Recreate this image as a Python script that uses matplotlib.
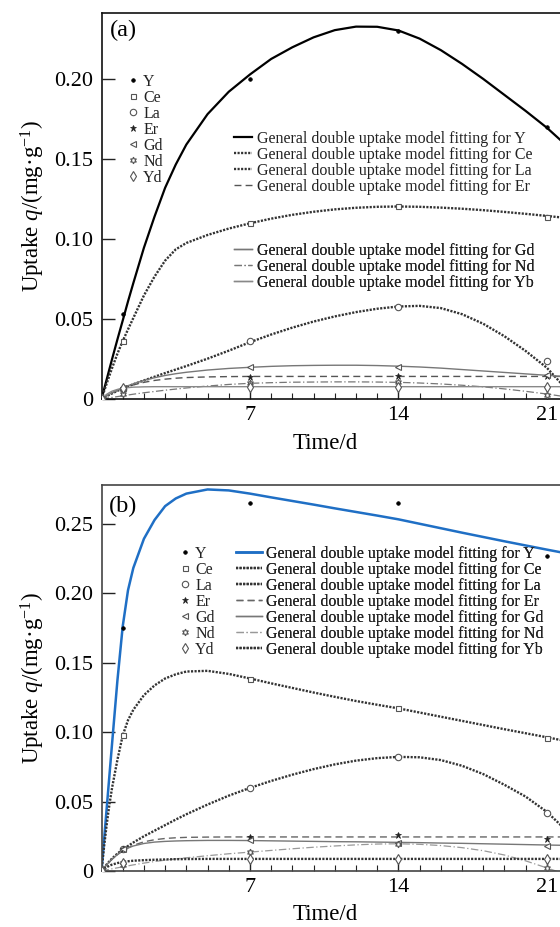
import matplotlib
matplotlib.use("Agg")
import matplotlib.pyplot as plt
from matplotlib.lines import Line2D
from matplotlib.ticker import MultipleLocator, FixedLocator, FuncFormatter

plt.rcParams['font.family'] = 'Liberation Serif'
plt.rcParams['mathtext.fontset'] = 'custom'
plt.rcParams['mathtext.rm'] = 'Liberation Serif'
plt.rcParams['mathtext.it'] = 'Liberation Serif:italic'

# sampling days
t_pts = [0, 1, 7, 14, 21]
t_fit = [0, 0.125, 0.25, 0.375, 0.5, 0.75, 1, 1.25, 1.5, 2, 2.5, 3, 3.5, 4,
         5, 6, 7, 8, 9, 10, 11, 12, 13, 14, 15, 16, 17, 18, 19, 20, 21, 22]

elements = ['Y', 'Ce', 'La', 'Er', 'Gd', 'Nd', 'Yd']
fit_names = ['Y', 'Ce', 'La', 'Er', 'Gd', 'Nd', 'Yb']

# panel (a) measured uptake
a_Y = [0, 0.053, 0.200, 0.230, 0.170]
a_Ce = [0, 0.036, 0.110, 0.1206, 0.114]
a_La = [0, 0.0065, 0.036, 0.0575, 0.024]
a_Er = [0, 0.007, 0.014, 0.0145, 0.0145]
a_Gd = [0, 0.007, 0.020, 0.020, 0.0148]
a_Nd = [0, 0.003, 0.010, 0.0105, 0.0028]
a_Yd = [0, 0.007, 0.0078, 0.0075, 0.0075]

# panel (a) model curves
a_fit_Y = [0, 0.0063, 0.0125, 0.0188, 0.025, 0.0372, 0.049, 0.061, 0.0724,
           0.0945, 0.114, 0.132, 0.1465, 0.159, 0.178, 0.192, 0.2028, 0.2125,
           0.2198, 0.2260, 0.2305, 0.2327, 0.2326, 0.2303, 0.2252, 0.2180,
           0.2094, 0.2000, 0.1900, 0.1800, 0.1695, 0.1575]
a_fit_Ce = [0, 0.0050, 0.0099, 0.0147, 0.0194, 0.0283, 0.0362, 0.0435, 0.0506,
            0.0647, 0.0765, 0.0865, 0.0935, 0.0975, 0.1025, 0.1065, 0.1098,
            0.1127, 0.1151, 0.1170, 0.1185, 0.1195, 0.1201, 0.1203, 0.1201,
            0.1196, 0.1189, 0.1180, 0.1169, 0.1157, 0.1144, 0.1130]
a_fit_La = [0, 0.0009, 0.0018, 0.0027, 0.0035, 0.0051, 0.0066, 0.0079, 0.0092,
            0.0116, 0.0139, 0.0162, 0.0184, 0.0206, 0.0252, 0.0302, 0.0355,
            0.0403, 0.0446, 0.0484, 0.0516, 0.0543, 0.0564, 0.0578, 0.0582,
            0.0568, 0.0530, 0.0470, 0.0392, 0.0300, 0.0195, 0.0050]
a_fit_Er = [0, 0.0010, 0.0020, 0.0029, 0.0038, 0.0053, 0.0066, 0.0078, 0.0088,
            0.0104, 0.0116, 0.0124, 0.0130, 0.0134, 0.0138, 0.0140, 0.0141,
            0.0141, 0.0141, 0.0141, 0.0141, 0.0141, 0.0141, 0.0141, 0.0141,
            0.0141, 0.0141, 0.0141, 0.0141, 0.0141, 0.0141, 0.0141]
a_fit_Gd = [0, 0.0010, 0.0020, 0.0030, 0.0039, 0.0055, 0.0070, 0.0083, 0.0095,
            0.0116, 0.0133, 0.0147, 0.0158, 0.0167, 0.0181, 0.0191, 0.0198,
            0.0204, 0.0208, 0.0210, 0.0211, 0.0211, 0.0209, 0.0205, 0.0200,
            0.0193, 0.0184, 0.0175, 0.0166, 0.0157, 0.0148, 0.0139]
a_fit_Nd = [0, 0.0003, 0.0005, 0.0008, 0.0010, 0.0015, 0.0020, 0.0025, 0.0030,
            0.0039, 0.0047, 0.0055, 0.0062, 0.0069, 0.0081, 0.0091, 0.0098,
            0.0102, 0.0105, 0.0106, 0.0107, 0.0107, 0.0106, 0.0104, 0.0100,
            0.0094, 0.0086, 0.0076, 0.0063, 0.0048, 0.0031, 0.0012]
a_fit_Yd = [0, 0.0016, 0.0030, 0.0040, 0.0049, 0.0060, 0.0067, 0.0071, 0.0074,
            0.0076, 0.0077, 0.0077, 0.0077, 0.0077, 0.0077, 0.0077, 0.0077,
            0.0077, 0.0077, 0.0077, 0.0077, 0.0077, 0.0077, 0.0077, 0.0077,
            0.0077, 0.0077, 0.0077, 0.0077, 0.0077, 0.0077, 0.0077]

# panel (b) measured uptake
b_Y = [0, 0.175, 0.265, 0.265, 0.2266]
b_Ce = [0, 0.098, 0.138, 0.117, 0.0957]
b_La = [0, 0.016, 0.060, 0.082, 0.042]
b_Er = [0, 0.016, 0.0245, 0.026, 0.023]
b_Gd = [0, 0.016, 0.0222, 0.020, 0.018]
b_Nd = [0, 0.004, 0.0137, 0.0194, 0.002]
b_Yd = [0, 0.006, 0.0087, 0.0087, 0.0087]

# panel (b) model curves
b_fit_Y = [0, 0.023, 0.046, 0.069, 0.092, 0.137, 0.176, 0.202, 0.218, 0.239,
           0.2525, 0.2625, 0.268, 0.2715, 0.2745, 0.2738, 0.2715, 0.2688,
           0.2662, 0.2636, 0.2609, 0.2583, 0.2557, 0.2530, 0.2498, 0.2466,
           0.2434, 0.2403, 0.2372, 0.2342, 0.2312, 0.2283]
b_fit_Ce = [0, 0.018, 0.034, 0.048, 0.060, 0.080, 0.0975, 0.1085, 0.116,
            0.1265, 0.1335, 0.1385, 0.1415, 0.1435, 0.1440, 0.1418, 0.1385,
            0.1350, 0.1317, 0.1284, 0.1253, 0.1223, 0.1196, 0.1170, 0.1140,
            0.1110, 0.1080, 0.1050, 0.1020, 0.0991, 0.0962, 0.0932]
b_fit_La = [0, 0.0025, 0.0048, 0.0070, 0.0090, 0.0125, 0.0155, 0.0180, 0.0205,
            0.0250, 0.0290, 0.0330, 0.0370, 0.0408, 0.0478, 0.0542, 0.0598,
            0.0648, 0.0693, 0.0733, 0.0767, 0.0794, 0.0812, 0.0821, 0.0818,
            0.0798, 0.0757, 0.0697, 0.0620, 0.0535, 0.0425, 0.0280]
b_fit_Er = [0, 0.0023, 0.0045, 0.0066, 0.0085, 0.0118, 0.0145, 0.0167, 0.0185,
            0.0210, 0.0225, 0.0234, 0.0239, 0.0242, 0.0244, 0.0245, 0.0245,
            0.0245, 0.0245, 0.0245, 0.0245, 0.0245, 0.0245, 0.0245, 0.0245,
            0.0245, 0.0245, 0.0245, 0.0245, 0.0245, 0.0245, 0.0245]
b_fit_Gd = [0, 0.0023, 0.0045, 0.0066, 0.0085, 0.0118, 0.0145, 0.0165, 0.0180,
            0.0198, 0.0208, 0.0213, 0.0216, 0.0218, 0.0220, 0.0220, 0.0219,
            0.0217, 0.0215, 0.0213, 0.0211, 0.0210, 0.0208, 0.0206, 0.0204,
            0.0201, 0.0199, 0.0196, 0.0193, 0.0190, 0.0187, 0.0184]
b_fit_Nd = [0, 0.0004, 0.0008, 0.0012, 0.0016, 0.0023, 0.0030, 0.0037, 0.0044,
            0.0057, 0.0068, 0.0078, 0.0087, 0.0095, 0.0110, 0.0124, 0.0136,
            0.0148, 0.0160, 0.0171, 0.0180, 0.0188, 0.0194, 0.0196, 0.0192,
            0.0183, 0.0168, 0.0146, 0.0115, 0.0073, 0.0022, -0.0030]
b_fit_Yd = [0, 0.0015, 0.0028, 0.0038, 0.0046, 0.0057, 0.0065, 0.0070, 0.0074,
            0.0078, 0.0081, 0.0083, 0.0085, 0.0086, 0.0087, 0.0087, 0.0087,
            0.0087, 0.0087, 0.0087, 0.0087, 0.0087, 0.0087, 0.0087, 0.0087,
            0.0087, 0.0087, 0.0087, 0.0087, 0.0087, 0.0087, 0.0087]

W, H = 560, 927


def fxy(px, py):
    # figure pixel (from top-left) -> figure fraction
    return px / W, 1 - py / H


DOT = (0, (0.9, 0.6))
marker_style = {
    'Y': dict(marker='o', ms=2.6, mfc='black', mec='black', mew=0.5),
    'Ce': dict(marker='s', ms=3.6, mfc='white', mec='#555555', mew=0.8),
    'La': dict(marker='o', ms=4.6, mfc='white', mec='#555555', mew=0.8),
    'Er': dict(marker='*', ms=4.8, mfc='#222222', mec='#222222', mew=0.5),
    'Gd': dict(marker='<', ms=4.6, mfc='white', mec='#555555', mew=0.8),
    'Nd': dict(marker=(6, 1, 0), ms=4.8, mfc='white', mec='#555555', mew=0.8),
    'Yd': dict(marker='d', ms=4.8, mfc='white', mec='#555555', mew=0.8),
}

line_a = [dict(color='black', ls='-', lw=1.6),
          dict(color='#333333', ls=DOT, lw=1.7),
          dict(color='#333333', ls=DOT, lw=1.7),
          dict(color='#555555', ls=(0, (5, 3)), lw=1.0),
          dict(color='#777777', ls='-', lw=1.0),
          dict(color='#777777', ls=(0, (6, 2, 1, 2)), lw=0.9),
          dict(color='#888888', ls='-', lw=1.0)]
line_b = [dict(color='#1f6fc5', ls='-', lw=1.8),
          dict(color='#333333', ls=DOT, lw=1.7),
          dict(color='#333333', ls=DOT, lw=1.7),
          dict(color='#666666', ls=(0, (5, 3)), lw=1.0),
          dict(color='#777777', ls='-', lw=1.0),
          dict(color='#999999', ls=(0, (6, 2, 1, 2)), lw=0.9),
          dict(color='#333333', ls=DOT, lw=1.7)]

fig = plt.figure(figsize=(W / 100, H / 100), dpi=100)


def draw_panel(ax, pts, fits, lstyles, ymax, yticks, spine_col):
    for fit, st in zip(fits, lstyles):
        ax.plot(t_fit, fit, zorder=2, **st)
    for el, vals in zip(elements, pts):
        ax.plot(t_pts, vals, ls='none', zorder=3, **marker_style[el])
    ax.set_xlim(0, 22.5)
    ax.set_ylim(0, ymax)
    ax.xaxis.set_major_locator(FixedLocator([7, 14, 21]))
    ax.xaxis.set_minor_locator(MultipleLocator(1))
    ax.yaxis.set_major_locator(FixedLocator(yticks))
    ax.yaxis.set_major_formatter(
        FuncFormatter(lambda v, p: '0' if v == 0 else f'{v:.2f}'))
    ax.tick_params(axis='both', which='major', direction='in', length=9,
                   width=1.0, labelsize=16, color='#222222')
    ax.tick_params(axis='x', which='minor', direction='in', length=4,
                   width=0.8, color='#222222')
    ax.tick_params(axis='x', which='major', pad=5)
    ax.tick_params(axis='y', which='major', pad=6)
    ax.tick_params(right=False, top=False)
    for s in ax.spines.values():
        s.set_color(spine_col)
        s.set_linewidth(1.2)
    ax.set_xlabel('Time/d', fontsize=16.5)
    ax.set_ylabel('Uptake $\\mathit{q}$/(mg·g$^{-1}$)', fontsize=16.5)
    ax.yaxis.set_label_coords(-0.115, 0.5)


def marker_legend(ax, px, py):
    handles = [Line2D([], [], ls='none', **dict(marker_style[el], color='#333333'))
               for el in elements]
    leg = ax.legend(handles, elements, loc='upper left',
                    bbox_to_anchor=fxy(px, py), bbox_transform=fig.transFigure,
                    frameon=False, fontsize=11.5, handlelength=0.6,
                    handletextpad=0.35, labelspacing=0.0, borderpad=0,
                    borderaxespad=0, labelcolor='#222222')
    ax.add_artist(leg)


def line_legend(ax, idx, lstyles, px, py, hl, pad):
    handles = [Line2D([], [], **lstyles[i]) for i in idx]
    labels = [f'General double uptake model fitting for {fit_names[i]}'
              for i in idx]
    leg = ax.legend(handles, labels, loc='upper left',
                    bbox_to_anchor=fxy(px, py), bbox_transform=fig.transFigure,
                    frameon=False, fontsize=11.5, handlelength=hl,
                    handletextpad=pad, labelspacing=0.0, borderpad=0,
                    borderaxespad=0, labelcolor='#222222')
    ax.add_artist(leg)


ax_w = (578.7 - 101.5) / W

# panel (a)
x0, y0 = fxy(101.5, 399)
ax_a = fig.add_axes([x0, y0, ax_w, (399 - 12.7) / H])
draw_panel(ax_a, [a_Y, a_Ce, a_La, a_Er, a_Gd, a_Nd, a_Yd],
           [a_fit_Y, a_fit_Ce, a_fit_La, a_fit_Er, a_fit_Gd, a_fit_Nd, a_fit_Yd],
           line_a, 0.2414, [0, 0.05, 0.10, 0.15, 0.20], '#111111')
ax_a.xaxis.set_label_coords(0.468, -0.088)
ax_a.text(*fxy(123, 30), '(a)', transform=fig.transFigure, fontsize=17.5,
          ha='center', va='center')
marker_legend(ax_a, 128, 74)
line_legend(ax_a, [0, 1, 2, 3], line_a, 234, 131, 1.1, 0.35)
line_legend(ax_a, [4, 5, 6], line_a, 234, 243, 1.1, 0.35)

# panel (b)
x0, y0 = fxy(101.5, 871)
ax_b = fig.add_axes([x0, y0, ax_w, (871 - 485) / H])
draw_panel(ax_b, [b_Y, b_Ce, b_La, b_Er, b_Gd, b_Nd, b_Yd],
           [b_fit_Y, b_fit_Ce, b_fit_La, b_fit_Er, b_fit_Gd, b_fit_Nd, b_fit_Yd],
           line_b, 0.2777, [0, 0.05, 0.10, 0.15, 0.20, 0.25], '#444444')
ax_b.xaxis.set_label_coords(0.468, -0.086)
ax_b.text(*fxy(123, 506), '(b)', transform=fig.transFigure, fontsize=17.5,
          ha='center', va='center')
marker_legend(ax_b, 180, 546)
line_legend(ax_b, [0, 1, 2, 3, 4, 5, 6], line_b, 236, 546, 1.6, 0.25)

fig.savefig('out.png', dpi=100)
